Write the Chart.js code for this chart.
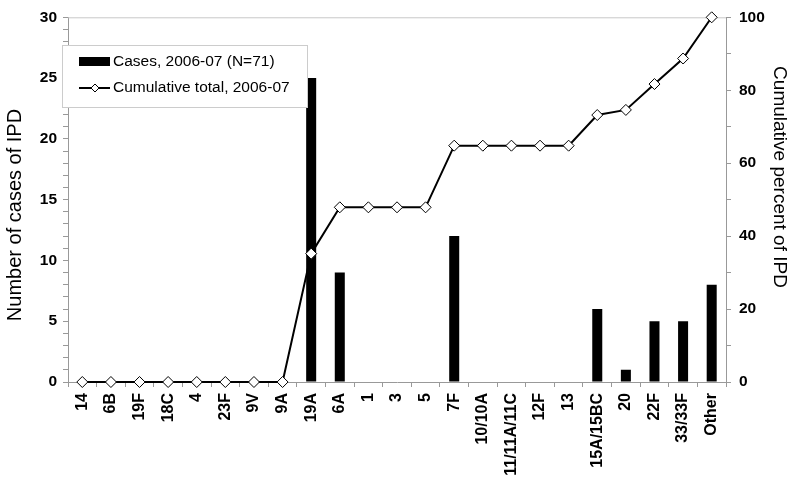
<!DOCTYPE html>
<html>
<head>
<meta charset="utf-8">
<script src="https://cdn.jsdelivr.net/npm/chart.js@4/dist/chart.umd.min.js"></script>
<style>
  html, body { margin: 0; padding: 0; background: #fff; }
  #wrap { width: 800px; height: 494px; }
</style>
</head>
<body>
<div id="wrap"><canvas id="myChart" width="800" height="494"></canvas></div>
<script>
// serotype categories along the x axis
var serotypes = ['14', '6B', '19F', '18C', '4', '23F', '9V', '9A', '19A', '6A', '1', '3', '5', '7F',
    '10/10A', '11/11A/11C', '12F', '13', '15A/15BC', '20', '22F', '33/33F', 'Other'];
// number of cases per serotype, 2006-07
var cases = [0, 0, 0, 0, 0, 0, 0, 0, 25, 9, 0, 0, 0, 12, 0, 0, 0, 0, 6, 1, 5, 5, 8];
// cumulative percent
var cumulative = [0, 0, 0, 0, 0, 0, 0, 0, 35.2, 47.9, 47.9, 47.9, 47.9, 64.8, 64.8, 64.8, 64.8, 64.8,
    73.2, 74.6, 81.7, 88.7, 100];
var leftTitle = 'Number of cases of IPD';
var rightTitle = 'Cumulative percent of IPD';

var fontFamily = "'Liberation Sans', Arial, sans-serif";
var axisGrey = '#999999';

// plot frame and the two axis titles
var frameAndTitles = {
    id: 'frameAndTitles',
    beforeDatasetsDraw: function (chart) {
        var a = chart.chartArea;
        var ctx = chart.ctx;
        ctx.save();
        ctx.strokeStyle = '#c8c8c8';
        ctx.lineWidth = 1;
        ctx.beginPath();
        ctx.moveTo(a.left, a.top + 0.5);
        ctx.lineTo(a.right, a.top + 0.5);
        ctx.stroke();
        ctx.restore();
    },
    afterDraw: function (chart) {
        var ctx = chart.ctx;
        ctx.save();
        ctx.fillStyle = '#000';
        ctx.textAlign = 'center';
        ctx.textBaseline = 'middle';
        ctx.font = '20px ' + fontFamily;
        ctx.translate(15, 215);
        ctx.rotate(-Math.PI / 2);
        ctx.fillText(leftTitle, 0, 0);
        ctx.restore();

        ctx.save();
        ctx.fillStyle = '#000';
        ctx.textAlign = 'center';
        ctx.textBaseline = 'middle';
        ctx.font = '19px ' + fontFamily;
        ctx.translate(779, 177);
        ctx.rotate(Math.PI / 2);
        ctx.fillText(rightTitle, 0, 0);
        ctx.restore();
    }
};

// legend box drawn inside the plot, top left
var legendBox = {
    id: 'legendBox',
    afterDraw: function (chart) {
        var ctx = chart.ctx;
        var sets = chart.data.datasets;
        var barSet = sets.find(function (d) { return d.type === 'bar'; });
        var lineSet = sets.find(function (d) { return d.type === 'line'; });
        var x = 62, y = 45, w = 245, h = 62;
        ctx.save();
        ctx.fillStyle = '#fff';
        ctx.fillRect(x, y, w, h);
        ctx.strokeStyle = '#cccccc';
        ctx.lineWidth = 1;
        ctx.strokeRect(x + 0.5, y + 0.5, w, h);
        ctx.font = '15.5px ' + fontFamily;
        ctx.fillStyle = '#000';
        ctx.textBaseline = 'middle';
        // bar swatch
        ctx.fillRect(x + 17, y + 12, 31, 9);
        ctx.fillText(barSet.label, x + 51, y + 17);
        // line swatch
        ctx.strokeStyle = '#000';
        ctx.lineWidth = 2;
        ctx.beginPath();
        ctx.moveTo(x + 17, y + 43);
        ctx.lineTo(x + 48, y + 43);
        ctx.stroke();
        ctx.lineWidth = 1;
        ctx.beginPath();
        ctx.moveTo(x + 33, y + 39);
        ctx.lineTo(x + 37, y + 43);
        ctx.lineTo(x + 33, y + 47);
        ctx.lineTo(x + 29, y + 43);
        ctx.closePath();
        ctx.fillStyle = '#fff';
        ctx.fill();
        ctx.stroke();
        ctx.fillStyle = '#000';
        ctx.fillText(lineSet.label, x + 51, y + 43);
        ctx.restore();
    }
};

var ctx = document.getElementById('myChart').getContext('2d');
new Chart(ctx, {
    data: {
        labels: serotypes,
        datasets: [{
            type: 'line',
            label: 'Cumulative total, 2006-07',
            data: cumulative,
            yAxisID: 'y1',
            borderColor: '#000',
            borderWidth: 2,
            pointStyle: 'rectRot',
            pointRadius: 5.5,
            pointBackgroundColor: '#fff',
            pointBorderColor: '#000',
            pointBorderWidth: 1,
            tension: 0,
            clip: false,
            order: 1
        }, {
            type: 'bar',
            label: 'Cases, 2006-07 (N=71)',
            data: cases,
            yAxisID: 'y',
            backgroundColor: '#000',
            borderWidth: 0,
            barPercentage: 0.35,
            categoryPercentage: 1,
            order: 2
        }]
    },
    options: {
        responsive: false,
        animation: false,
        layout: { padding: { top: -1, right: 4, left: 4, bottom: 0 } },
        plugins: {
            legend: { display: false },
            tooltip: { enabled: false }
        },
        scales: {
            x: {
                offset: true,
                grid: { offset: true, drawOnChartArea: false, color: axisGrey, tickLength: 5 },
                border: { color: axisGrey },
                ticks: {
                    autoSkip: false,
                    maxRotation: 90,
                    minRotation: 90,
                    color: '#000',
                    padding: 6,
                    font: { family: fontFamily, size: 16, weight: 'bold' }
                },
                afterFit: function (scale) { scale.height = 112; }
            },
            y: {
                position: 'left',
                min: 0,
                max: 30,
                grid: { drawOnChartArea: false, color: axisGrey, tickLength: 5 },
                border: { color: axisGrey },
                ticks: {
                    stepSize: 1,
                    autoSkip: false,
                    color: '#000',
                    padding: 6,
                    font: { family: fontFamily, size: 15.5, weight: 'bold' },
                    callback: function (v) { return v % 5 === 0 ? v : ''; }
                },
                afterFit: function (scale) { scale.width = 64; }
            },
            y1: {
                position: 'right',
                min: 0,
                max: 100,
                grid: { drawOnChartArea: false, color: axisGrey, tickLength: 5 },
                border: { color: axisGrey },
                ticks: {
                    stepSize: 10,
                    autoSkip: false,
                    color: '#000',
                    padding: 8,
                    font: { family: fontFamily, size: 15.5, weight: 'bold' },
                    callback: function (v) { return v % 20 === 0 ? v : ''; }
                },
                afterFit: function (scale) { scale.width = 70; }
            }
        }
    },
    plugins: [frameAndTitles, legendBox]
});
</script>
</body>
</html>
